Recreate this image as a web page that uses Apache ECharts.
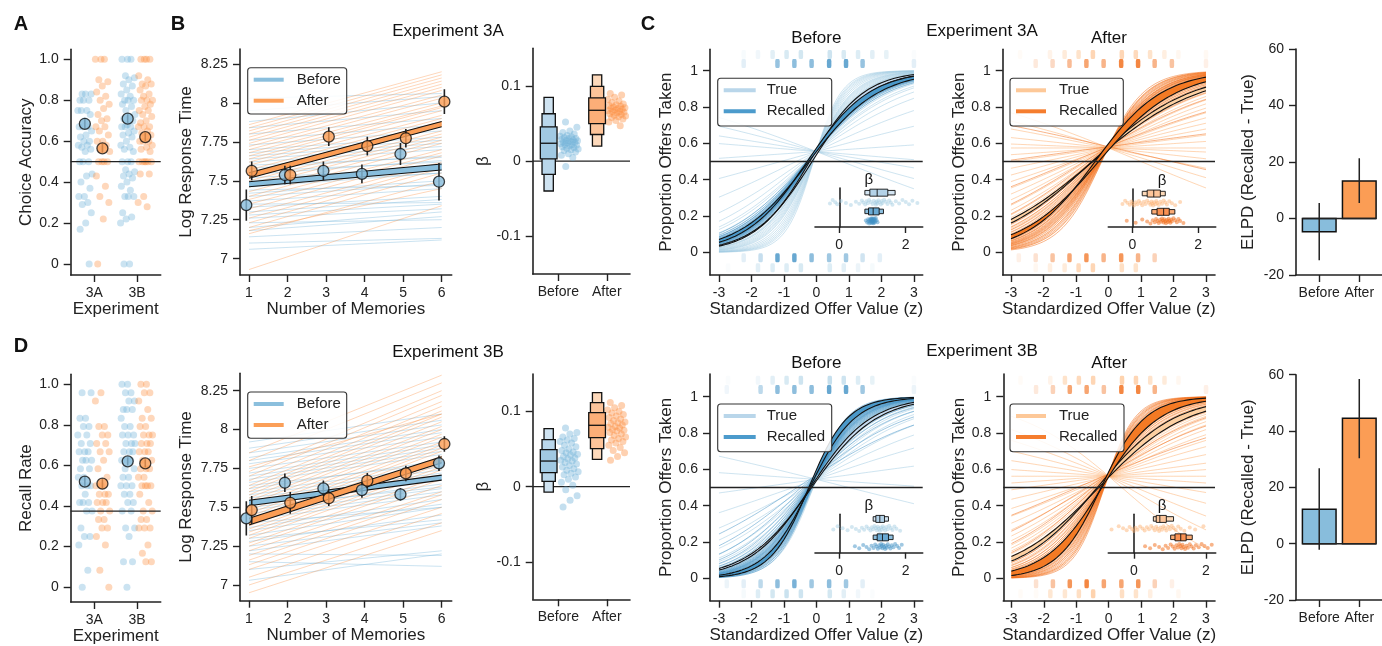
<!DOCTYPE html>
<html>
<head>
<meta charset="utf-8">
<title>Experiment 3A / 3B</title>
<script src="https://cdn.jsdelivr.net/npm/echarts@6.0.0/dist/echarts.min.js"></script>
<style>
  html, body { margin: 0; padding: 0; background: #fff; }
  #chart { width: 1382px; height: 646px; }
</style>
</head>
<body>
<div id="chart"></div>
<script>
// ---------------- data ----------------
const experiments = ['3A', '3B'];
const phases = ['Before', 'After'];

// A: choice accuracy per subject
const acc3A_before = [0.83,0.83,0.83,0.8,0.8,0.8,0.75,0.75,0.75,0.73,0.7,0.67,0.67,0.67,0.65,0.63,0.62,0.6,0.6,0.58,0.58,0.57,0.56,0.55,0.5,0.5,0.5,0.44,0.43,0.4,0.37,0.33,0.33,0.3,0.29,0.25,0.2,0.17,0];
const acc3A_after = [1,1,1,0.9,0.89,0.87,0.84,0.82,0.8,0.78,0.76,0.73,0.71,0.7,0.67,0.67,0.65,0.63,0.6,0.6,0.58,0.56,0.55,0.5,0.5,0.5,0.5,0.43,0.38,0.33,0.3,0.22,0];
const acc3B_before = [1,1,1,0.92,0.91,0.9,0.88,0.87,0.85,0.83,0.82,0.8,0.8,0.8,0.78,0.77,0.75,0.73,0.72,0.71,0.7,0.68,0.67,0.67,0.67,0.65,0.64,0.63,0.62,0.6,0.58,0.57,0.56,0.55,0.5,0.5,0.5,0.46,0.45,0.44,0.43,0.42,0.4,0.38,0.36,0.33,0.33,0.33,0.25,0.23,0.22,0.2,0,0];
const acc3B_after = [1,1,1,1,0.92,0.9,0.88,0.88,0.87,0.85,0.83,0.82,0.8,0.8,0.8,0.78,0.77,0.75,0.75,0.73,0.72,0.7,0.69,0.67,0.67,0.67,0.65,0.64,0.63,0.62,0.6,0.6,0.6,0.58,0.57,0.56,0.55,0.5,0.5,0.5,0.5,0.5,0.5,0.44,0.44,0.33,0.3,0.28];
const accMeans = [0.685, 0.565, 0.71, 0.62];
const accErrs = [0.025, 0.022, 0.022, 0.02];

// D: recall rate per subject
const rec3A_before = [0.958,0.958,0.833,0.833,0.792,0.792,0.75,0.75,0.708,0.708,0.667,0.667,0.667,0.625,0.625,0.625,0.583,0.583,0.542,0.542,0.5,0.5,0.5,0.458,0.417,0.417,0.417,0.375,0.375,0.292,0.25,0.25,0.208,0.083,0];
const rec3A_after = [0.958,0.917,0.792,0.792,0.75,0.75,0.708,0.708,0.667,0.667,0.625,0.583,0.542,0.5,0.5,0.458,0.458,0.458,0.417,0.417,0.417,0.375,0.375,0.333,0.333,0.292,0.292,0.25,0.208,0.083,0];
const rec3B_before = [1,1,0.958,0.958,0.917,0.917,0.875,0.875,0.875,0.833,0.792,0.792,0.75,0.75,0.75,0.708,0.708,0.708,0.667,0.667,0.667,0.625,0.625,0.625,0.583,0.583,0.542,0.542,0.5,0.5,0.5,0.458,0.458,0.417,0.417,0.375,0.375,0.292,0.292,0.25,0.125,0.125,0];
const rec3B_after = [1,1,0.958,0.958,0.917,0.875,0.833,0.833,0.792,0.792,0.75,0.75,0.75,0.708,0.708,0.708,0.667,0.667,0.667,0.625,0.625,0.583,0.583,0.583,0.542,0.542,0.5,0.5,0.5,0.5,0.458,0.417,0.375,0.375,0.333,0.333,0.292,0.292,0.292,0.208,0.167,0.125,0.125];
const recMeans = [0.52, 0.51, 0.62, 0.61];
const recErrs = [0.025, 0.025, 0.02, 0.02];

// B: log response time by number of memories
const memories = [1, 2, 3, 4, 5, 6];
const rt3A_before = [7.344, 7.537, 7.563, 7.544, 7.672, 7.494];
const rt3A_beforeErr = [0.1, 0.06, 0.06, 0.06, 0.07, 0.12];
const rt3A_after = [7.563, 7.537, 7.783, 7.723, 7.773, 8.008];
const rt3A_afterErr = [0.06, 0.06, 0.06, 0.06, 0.06, 0.08];
const rt3B_before = [7.429, 7.658, 7.622, 7.611, 7.583, 7.783];
const rt3B_beforeErr = [0.11, 0.06, 0.05, 0.05, 0.04, 0.05];
const rt3B_after = [7.482, 7.529, 7.558, 7.671, 7.718, 7.907];
const rt3B_afterErr = [0.09, 0.07, 0.05, 0.05, 0.05, 0.05];
// group fit band [low, high] at 1 memory and at 6 memories
const fit3A_before = [[7.462, 7.494], [7.569, 7.608]];
const fit3A_after = [[7.516, 7.552], [7.847, 7.88]];
const fit3B_before = [[7.51, 7.545], [7.675, 7.707]];
const fit3B_after = [[7.386, 7.429], [7.787, 7.825]];
// subject fits: value at 1 memory and at 6 memories
const subj3A_beforeStart = [7.06,7.1,7.14,7.18,7.2,7.23,7.26,7.28,7.3,7.33,7.35,7.37,7.4,7.42,7.44,7.46,7.48,7.5,7.52,7.54,7.56,7.58,7.6,7.62,7.64,7.66,7.68,7.7,7.73,7.76,7.8,7.84,7.88,7.95,8.03];
const subj3A_beforeEnd = [7.12,7.13,7.2,7.27,7.3,7.25,7.32,7.35,7.38,7.4,7.36,7.45,7.48,7.5,7.47,7.55,7.55,7.6,7.58,7.63,7.62,7.66,7.65,7.7,7.72,7.74,7.76,7.78,7.82,7.86,7.9,7.95,8.0,8.04,8.06];
const subj3A_afterStart = [6.93,7.16,7.18,7.2,7.23,7.26,7.29,7.32,7.35,7.38,7.4,7.43,7.46,7.48,7.5,7.52,7.55,7.57,7.6,7.62,7.64,7.66,7.68,7.7,7.72,7.74,7.76,7.78,7.8,7.82,7.84,7.86];
const subj3A_afterEnd = [7.34,7.5,7.45,7.55,7.58,7.6,7.62,7.66,7.68,7.7,7.74,7.76,7.78,7.8,7.82,7.86,7.88,7.9,7.92,7.95,7.97,7.98,8.0,8.03,8.05,8.08,8.1,8.12,8.14,8.16,8.18,8.2];
const subj3B_beforeStart = [7.03,7.1,7.15,7.2,7.22,7.25,7.28,7.3,7.32,7.35,7.37,7.4,7.42,7.44,7.46,7.48,7.5,7.52,7.54,7.56,7.58,7.6,7.62,7.64,7.66,7.68,7.7,7.72,7.75,7.78,7.8,7.82,7.85,7.88,7.92];
const subj3B_beforeEnd = [7.2,7.22,7.12,7.19,7.38,7.4,7.45,7.42,7.5,7.52,7.55,7.5,7.58,7.6,7.62,7.65,7.63,7.68,7.7,7.72,7.74,7.76,7.8,7.78,7.84,7.86,7.88,7.9,7.92,7.95,7.98,8.0,8.03,8.06,8.1];
const subj3B_afterStart = [6.95,7.0,7.05,7.1,7.13,7.16,7.19,7.22,7.25,7.27,7.3,7.32,7.34,7.36,7.38,7.4,7.42,7.44,7.46,7.48,7.5,7.52,7.54,7.56,7.58,7.6,7.62,7.64,7.67,7.7,7.73,7.76,7.8,7.85];
const subj3B_afterEnd = [7.35,7.4,7.46,7.5,7.55,7.58,7.6,7.64,7.68,7.7,7.74,7.76,7.78,7.8,7.83,7.86,7.88,7.9,7.92,7.95,7.97,8.0,8.02,8.05,8.08,8.1,8.12,8.15,8.18,8.22,8.25,8.1,8.3,8.35];

// beta (RT slope): letter-value boxes [q lo3, lo2, lo1, median, hi1, hi2, hi3] and subjects
const betaBox3A_before = [-0.0397, -0.0176, 0.0031, 0.0238, 0.0455, 0.063, 0.0848];
const betaBox3A_after = [0.0199, 0.0354, 0.05, 0.0676, 0.084, 0.0994, 0.1148];
const betaBox3B_before = [-0.0072, 0.0071, 0.0187, 0.0341, 0.0493, 0.0627, 0.0773];
const betaBox3B_after = [0.0364, 0.0507, 0.0653, 0.0817, 0.0987, 0.112, 0.1253];
const beta3A_before = [0.052,0.045,0.04,0.038,0.036,0.034,0.033,0.032,0.031,0.03,0.03,0.029,0.028,0.027,0.027,0.026,0.025,0.025,0.024,0.023,0.022,0.022,0.021,0.02,0.019,0.018,0.017,0.016,0.015,0.014,0.012,0.01,0.008,0.005,-0.007];
const beta3A_after = [0.09,0.088,0.085,0.082,0.08,0.078,0.076,0.075,0.074,0.073,0.072,0.071,0.07,0.07,0.069,0.068,0.067,0.066,0.066,0.065,0.064,0.063,0.062,0.061,0.06,0.059,0.058,0.056,0.054,0.052,0.047];
const beta3B_before = [0.078,0.072,0.07,0.066,0.064,0.062,0.06,0.058,0.055,0.053,0.05,0.048,0.046,0.045,0.043,0.042,0.04,0.038,0.037,0.035,0.034,0.032,0.03,0.028,0.026,0.024,0.022,0.02,0.018,0.016,0.013,0.01,0.006,0.002,-0.004,-0.012,-0.018,-0.027];
const beta3B_after = [0.112,0.108,0.105,0.102,0.1,0.098,0.096,0.094,0.092,0.09,0.088,0.086,0.085,0.084,0.082,0.08,0.079,0.078,0.076,0.075,0.074,0.072,0.07,0.068,0.066,0.064,0.062,0.06,0.058,0.055,0.052,0.048,0.045,0.04,0.035];

// C: logistic choice curves (subject slopes, shared intercepts, group bands [intercept, slope])
const c3A_before_trueBeta = [-0.28,-0.2,-0.12,-0.06,0.05,0.2,0.35,0.5,0.6,0.68,0.72,0.78,0.82,0.86,0.9,0.95,1.0,1.04,1.08,1.1,1.12,1.15,1.18,1.2,1.25,1.28,1.3,1.35,1.4,1.45,1.5,1.55,1.6,1.7,1.8,1.9,2.0,2.1,2.2,2.35];
const c3A_before_recBeta = [0.8,0.84,0.87,0.88,0.9,0.92,0.93,0.94,0.95,0.96,0.97,0.98,0.98,0.99,1.0,1.0,1.01,1.02,1.02,1.03,1.04,1.05,1.06,1.07,1.08,1.1,1.12,1.15];
const c3A_before_trueInt = 0.22, c3A_before_recInt = 0.25;
const c3A_before_trueBand = [[0.15, 1.12], [0.25, 1.2]];
const c3A_before_recBand = [[0.22, 0.93], [0.3, 1.05]];
const c3A_before_trueBox = [0.77, 0.92, 1.14, 1.46, 1.68];
const c3A_before_recBox = [0.77, 0.88, 1.02, 1.2, 1.33];

const c3A_after_trueBeta = [-0.3,-0.22,-0.15,-0.08,-0.03,0.0,0.05,0.1,0.15,0.2,0.25,0.3,0.35,0.4,0.45,0.5,0.55,0.58,0.6,0.63,0.66,0.7,0.73,0.76,0.8,0.85,0.9,0.95,1.0,1.05,1.12,1.2,1.3,1.45];
const c3A_after_recBeta = [-0.17,0.1,0.3,0.45,0.55,0.62,0.68,0.72,0.76,0.8,0.84,0.87,0.9,0.93,0.95,0.97,1.0,1.02,1.05,1.08,1.1,1.12,1.15,1.18,1.2,1.25,1.3,1.35,1.4,1.45,1.55];
const c3A_after_trueInt = 0.3, c3A_after_recInt = 0.33;
const c3A_after_trueBand = [[0.29, 0.6], [0.33, 0.66]];
const c3A_after_recBand = [[0.25, 0.83], [0.4, 0.97]];
const c3A_after_trueBox = [0.3, 0.45, 0.65, 0.85, 1.0];
const c3A_after_recBox = [0.59, 0.75, 0.95, 1.12, 1.29];

const c3B_before_trueBeta = [-0.18,-0.05,0.1,0.25,0.38,0.5,0.6,0.68,0.75,0.82,0.88,0.94,0.98,1.02,1.06,1.1,1.13,1.16,1.19,1.22,1.25,1.28,1.31,1.34,1.38,1.42,1.46,1.5,1.55,1.6,1.66,1.72,1.83];
const c3B_before_recBeta = [0.47,0.6,0.72,0.82,0.9,0.97,1.03,1.08,1.12,1.16,1.2,1.23,1.26,1.28,1.3,1.32,1.35,1.38,1.4,1.43,1.46,1.5,1.54,1.58,1.63,1.68,1.74,1.8,1.88];
const c3B_before_trueInt = 0.18, c3B_before_recInt = 0.28;
const c3B_before_trueBand = [[0.15, 1.0], [0.2, 1.08]];
const c3B_before_recBand = [[0.3, 1.45], [0.4, 1.7]];
const c3B_before_trueBox = [1.02, 1.1, 1.22, 1.36, 1.48];
const c3B_before_recBox = [1.02, 1.14, 1.3, 1.48, 1.62];

const c3B_after_trueBeta = [-0.62,-0.42,-0.3,-0.2,-0.12,-0.05,0.0,0.05,0.1,0.17,0.24,0.3,0.36,0.42,0.48,0.53,0.58,0.62,0.66,0.7,0.74,0.78,0.82,0.86,0.9,0.95,1.0,1.05,1.1,1.16,1.23,1.3,1.4,1.55,1.7,1.93];
const c3B_after_recBeta = [0.31,0.45,0.58,0.7,0.8,0.88,0.95,1.02,1.08,1.13,1.18,1.22,1.26,1.29,1.32,1.35,1.38,1.42,1.46,1.5,1.55,1.6,1.66,1.72,1.8,1.88,1.96,2.05,2.16];
const c3B_after_trueInt = 0.25, c3B_after_recInt = 0.3;
const c3B_after_trueBand = [[0.23, 0.74], [0.3, 0.85]];
const c3B_after_recBand = [[0.24, 1.14], [0.35, 1.5]];
const c3B_after_trueBox = [0.54, 0.62, 0.72, 0.9, 1.1];
const c3B_after_recBox = [1.02, 1.14, 1.3, 1.45, 1.62];

// raw choices: offer value levels and share of choices (taken / passed)
const zTrueLevels = [-2.72,-2.24,-1.8,-1.35,-0.92,-0.48,-0.04,0.41,0.84,1.28,1.72,2.15,2.6,3.0];
const zRecLevels = [-2.76,-2.24,-1.72,-1.2,-0.68,-0.15,0.39,0.91,1.42,1.95,2.47,3.0];
const c3A_before_takenTrue = [0,0.08,0.15,0.3,0.4,0.45,0,0.5,0.4,0.35,0.3,0.25,0,0.05];
const c3A_before_takenRec = [0,0.15,0,0.55,0.6,0.6,0.8,0.8,0.55,0,0,0.15];
const c3A_before_passRec = [0,0.15,0.3,0.8,0.8,0.6,0.5,0.5,0.25,0.15,0,0];
const c3A_before_passTrue = [0.05,0,0.3,0.35,0.35,0.4,0,0.35,0.3,0.2,0.1,0,0,0];
const c3A_after_takenTrue = [0.05,0,0.15,0.25,0.35,0.5,0,0.5,0.45,0.35,0.2,0.1,0,0.08];
const c3A_after_takenRec = [0,0.15,0.25,0.45,0.6,0.5,0.8,0.8,0.5,0.4,0,0.1];
const c3A_after_passRec = [0.1,0.2,0.4,0.6,0.7,0.5,0.7,0.5,0.3,0,0,0];
const c3A_after_passTrue = [0,0.1,0.2,0.25,0.45,0.5,0,0.4,0.35,0,0,0,0,0];
const c3B_before_takenTrue = [0.05,0,0.15,0.3,0.4,0.5,0,0.6,0.5,0.35,0.25,0,0,0.05];
const c3B_before_takenRec = [0.08,0,0.35,0.6,0.6,0.6,0.8,0.8,0.5,0,0,0.1];
const c3B_before_passRec = [0.1,0.15,0.35,0.6,0.7,0.5,0.6,0.5,0.15,0,0,0];
const c3B_before_passTrue = [0,0.1,0.35,0.45,0.55,0.5,0,0.45,0.3,0.15,0.05,0,0,0];
const c3B_after_takenTrue = [0.05,0,0.15,0.35,0.45,0.5,0,0.55,0.5,0.35,0.25,0.1,0,0];
const c3B_after_takenRec = [0,0.15,0.3,0.6,0.6,0.4,0.8,0.8,0.5,0,0,0.1];
const c3B_after_passRec = [0,0.2,0.4,0.7,0.8,0.6,0.6,0.7,0.3,0.1,0,0];
const c3B_after_passTrue = [0.05,0.05,0.3,0.3,0.4,0.55,0,0.4,0.35,0.2,0,0.1,0,0];

// ELPD (Recalled - True)
const elpd3A = [-4.7, 13.3];
const elpd3A_lo = [-14.8, 5.5];
const elpd3A_hi = [5.5, 21.3];
const elpd3B = [12.2, 44.5];
const elpd3B_lo = [-2.2, 30.3];
const elpd3B_hi = [26.8, 58.5];

// ---------------- drawing ----------------
const FONT = '"Liberation Sans", Arial, sans-serif';
const INK = '#222222';
const BLUE = '#6baed6', ORANGE = '#fd8d3c';
const BLUE_FILL = '#88bddc', ORANGE_FILL = '#fb9d55';
const PAL = {
  before: {trueLine: '#9ecae1', recLine: '#4292c6', trueBand: '#c6dbef', recBand: '#4a98c9',
    legTrue: '#b9d6ea', legRec: '#4c9bcc', boxTrue: ['#d4e5f2', '#b3d2e8'], boxRec: ['#8cbfdf', '#6aaad4']},
  after: {trueLine: '#fdae6b', recLine: '#f16913', trueBand: '#fdd0a2', recBand: '#f47a24',
    legTrue: '#fdc898', legRec: '#f57d2e', boxTrue: ['#fdd9b8', '#fdc59a'], boxRec: ['#fbab74', '#f99152']}
};

const jit = i => ((i * 0.6180339887 + 0.31) % 1) - 0.5;
const sig = t => 1 / (1 + Math.exp(-t));
const zs = [];
for (let k = -30; k <= 30; k++) zs.push(k / 10);
const curve = (a, b) => zs.map(z => [z, sig(a + b * z)]);

const grids = [], xAxes = [], yAxes = [], series = [], graphics = [];

function grid(l, t, w, h) {
  grids.push({left: l, top: t, width: w, height: h});
  return grids.length - 1;
}
function axis(gi, min, max, ticks, fmt, name, gap, margin) {
  const a = {
    type: 'value', gridIndex: gi, min: min, max: max,
    splitLine: {show: false},
    axisLine: {show: true, onZero: false, lineStyle: {color: INK, width: 1.6}},
    axisTick: {show: ticks.length > 0, length: 7, customValues: ticks, lineStyle: {color: INK, width: 1.4}},
    axisLabel: {show: ticks.length > 0, customValues: ticks, margin: margin || 12, color: INK, fontSize: 14, fontFamily: FONT},
    name: name || '', nameLocation: 'middle', nameGap: gap || 0,
    nameTextStyle: {fontSize: 17, color: INK, fontFamily: FONT}
  };
  if (fmt) a.axisLabel.formatter = fmt;
  return a;
}
function lines(gi, segs, color, width, opacity, z) {
  return {type: 'lines', coordinateSystem: 'cartesian2d', xAxisIndex: gi, yAxisIndex: gi,
    polyline: true, silent: true, z: z, data: segs.map(c => ({coords: c})),
    lineStyle: {color: color, width: width, opacity: opacity}};
}
function scatter(gi, data, extra) {
  return Object.assign({type: 'scatter', xAxisIndex: gi, yAxisIndex: gi, silent: true, data: data}, extra);
}
function custom(gi, z, draw) {
  return {type: 'custom', xAxisIndex: gi, yAxisIndex: gi, silent: true, z: z, data: [[0, 0]],
    renderItem: (params, api) => ({type: 'group', children: draw(api)})};
}
function band(gi, lo, hi, fill, z) {
  return custom(gi, z, api => {
    const L = lo.map(p => api.coord(p)), H = hi.map(p => api.coord(p));
    return [
      {type: 'polygon', shape: {points: L.concat(H.slice().reverse())}, style: {fill: fill}},
      {type: 'polyline', shape: {points: L}, style: {stroke: '#111', lineWidth: 1.1, fill: null}},
      {type: 'polyline', shape: {points: H}, style: {stroke: '#111', lineWidth: 1.1, fill: null}}
    ];
  });
}
function text(x, y, str, font, align) {
  graphics.push({type: 'text', x: x, y: y, z: 100,
    style: {text: str, font: font, fill: '#111', textAlign: align || 'center', textVerticalAlign: 'middle'}});
}
function legend(x, y, w, h, items, swW) {
  graphics.push({type: 'rect', z: 100, shape: {x: x, y: y, width: w, height: h, r: 3},
    style: {fill: 'rgba(255,255,255,0.85)', stroke: '#333', lineWidth: 1.1}});
  items.forEach((it, k) => {
    const yy = y + 12 + k * 21;
    graphics.push({type: 'line', z: 101, shape: {x1: x + 6, y1: yy, x2: x + 6 + swW, y2: yy},
      style: {stroke: it[1], lineWidth: 4}});
    graphics.push({type: 'text', z: 101, x: x + 49, y: yy,
      style: {text: it[0], font: '15px ' + FONT, fill: INK, textAlign: 'left', textVerticalAlign: 'middle'}});
  });
}

// A / D strip panels
function stripPanel(box, yr, groups, means, errs, ref, yname) {
  const gi = grid(...box);
  xAxes.push(axis(gi, -0.55, 1.55, [0, 1], v => experiments[Math.round(v)], 'Experiment', 26, 11));
  yAxes.push(axis(gi, yr[0], yr[1], [0, 0.2, 0.4, 0.6, 0.8, 1], v => v === 0 ? '0' : v.toFixed(1), yname, 36, 12));
  const offs = [-0.22, 0.19];
  const xs = [0, 1, 2, 3].map(k => Math.floor(k / 2) + offs[k % 2]);
  groups.forEach((vals, k) => {
    series.push(scatter(gi, vals.map((v, i) => [xs[k] + jit(i + 5 * k) * 0.34, v]),
      {symbolSize: 7, itemStyle: {color: k % 2 ? ORANGE : BLUE, opacity: 0.35}, z: 2}));
  });
  series.push(lines(gi, [[[-0.55, ref], [1.55, ref]]], INK, 1.4, 1, 3));
  series.push(lines(gi, means.map((m, k) => [[xs[k], m - errs[k]], [xs[k], m + errs[k]]]), INK, 1.6, 1, 4));
  series.push(scatter(gi, means.map((m, k) => ({value: [xs[k], m], itemStyle: {color: k % 2 ? ORANGE_FILL : BLUE_FILL}})),
    {symbolSize: 11, itemStyle: {borderColor: '#111', borderWidth: 1.3}, z: 5}));
}

// B response-time panels
function rtPanel(box, yr, sb, eb, sa, ea, mb, errb, ma, erra, fb, fa) {
  const gi = grid(...box);
  xAxes.push(axis(gi, 0.766, 6.26, memories, null, 'Number of Memories', 26, 11));
  yAxes.push(axis(gi, yr[0], yr[1], [7, 7.25, 7.5, 7.75, 8, 8.25], null, 'Log Response Time', 45, 12));
  series.push(lines(gi, sb.map((s, i) => [[1, s], [6, eb[i]]]), BLUE, 1, 0.35, 1));
  series.push(lines(gi, sa.map((s, i) => [[1, s], [6, ea[i]]]), ORANGE, 1, 0.35, 1));
  series.push(band(gi, [[1, fb[0][0]], [6, fb[1][0]]], [[1, fb[0][1]], [6, fb[1][1]]], BLUE_FILL, 3));
  series.push(band(gi, [[1, fa[0][0]], [6, fa[1][0]]], [[1, fa[0][1]], [6, fa[1][1]]], ORANGE_FILL, 3));
  [[mb, errb, -0.07, BLUE_FILL], [ma, erra, 0.07, ORANGE_FILL]].forEach(([m, e, off, col]) => {
    series.push(lines(gi, m.map((v, i) => [[memories[i] + off, v - e[i]], [memories[i] + off, v + e[i]]]), INK, 1.6, 1, 4));
    series.push(scatter(gi, m.map((v, i) => [memories[i] + off, v]),
      {symbolSize: 11, itemStyle: {color: col, borderColor: '#111', borderWidth: 1.3}, z: 5}));
  });
  legend(box[0] + 7.7, box[1] + 18.7, 99, 46.3, [['Before', '#8bbfdd'], ['After', '#fb9f58']], 30);
}

// beta panels
function betaPanel(box, qb, qa, bb, ba) {
  const gi = grid(...box);
  xAxes.push(axis(gi, -0.53, 1.48, [0, 1], v => phases[Math.round(v)], '', 0, 11));
  yAxes.push(axis(gi, -0.15, 0.15, [-0.1, 0, 0.1], v => v === 0 ? '0' : String(v), 'β', 41, 12));
  series.push(lines(gi, [[[-0.53, 0], [1.48, 0]]], INK, 1.4, 1, 1));
  const fills = [['#cfe3f1', '#b9d7eb', '#a1c9e2'], ['#fdd9bb', '#fdc49a', '#fcae78']];
  const widths = [9.3, 13.3, 16.7];
  series.push(custom(gi, 3, api => {
    const ch = [];
    [qb, qa].forEach((q, g) => {
      const xc = api.coord([g - 0.2, 0])[0];
      for (let k = 0; k < 3; k++) {
        const top = api.coord([g, q[6 - k]])[1], bot = api.coord([g, q[k]])[1];
        ch.push({type: 'rect', shape: {x: xc - widths[k] / 2, y: top, width: widths[k], height: bot - top},
          style: {fill: fills[g][k], stroke: '#111', lineWidth: 1.3}});
      }
      const ym = api.coord([g, q[3]])[1];
      ch.push({type: 'line', shape: {x1: xc - widths[2] / 2, y1: ym, x2: xc + widths[2] / 2, y2: ym},
        style: {stroke: '#111', lineWidth: 1.3}});
    });
    return ch;
  }));
  series.push(scatter(gi, bb.map((v, i) => [0.22 + jit(i) * 0.38, v]), {symbolSize: 7, itemStyle: {color: BLUE, opacity: 0.4}, z: 2}));
  series.push(scatter(gi, ba.map((v, i) => [1.2 + jit(i + 3) * 0.38, v]), {symbolSize: 7, itemStyle: {color: ORANGE, opacity: 0.4}, z: 2}));
}

// C logistic panels with inset
function hBox(api, y, q, fills) {
  const yc = api.coord([0, y])[1];
  const r = (lo, hi, h, fill) => {
    const a = api.coord([lo, y])[0], b = api.coord([hi, y])[0];
    return {type: 'rect', shape: {x: a, y: yc - h / 2, width: b - a, height: h}, style: {fill: fill, stroke: '#111', lineWidth: 0.9}};
  };
  const m = api.coord([q[2], y])[0];
  return [r(q[0], q[4], 4.5, fills[0]), r(q[1], q[3], 7, fills[1]),
    {type: 'line', shape: {x1: m, y1: yc - 3.5, x2: m, y2: yc + 3.5}, style: {stroke: '#111', lineWidth: 0.9}}];
}
function logitPanel(p) {
  const pal = PAL[p.phase];
  const gi = grid(...p.box);
  xAxes.push(axis(gi, p.xr[0], p.xr[1], [-3, -2, -1, 0, 1, 2, 3], null, 'Standardized Offer Value (z)', 26, 11));
  yAxes.push(axis(gi, p.yr[0], p.yr[1], [0, 0.2, 0.4, 0.6, 0.8, 1], null, 'Proportion Offers Taken', 35, 12));
  [[p.takenTrue, zTrueLevels, 1.09, pal.trueLine], [p.takenRec, zRecLevels, 1.04, pal.recLine],
   [p.passRec, zRecLevels, -0.03, pal.recLine], [p.passTrue, zTrueLevels, -0.085, pal.trueLine]].forEach(([w, lv, y, col]) => {
    const data = [];
    w.forEach((a, i) => { if (a > 0) data.push({value: [lv[i], y], itemStyle: {opacity: a}}); });
    series.push(scatter(gi, data, {symbol: 'roundRect', symbolSize: [4.5, 9], itemStyle: {color: col}, z: 1}));
  });
  series.push(lines(gi, p.trueBeta.map(b => curve(p.trueInt, b)), pal.trueLine, 1, 0.5, 2));
  series.push(lines(gi, p.recBeta.map(b => curve(p.recInt, b)), pal.recLine, 1, 0.5, 2));
  series.push(band(gi, curve(...p.trueBand[0]), curve(...p.trueBand[1]), pal.trueBand, 3));
  series.push(band(gi, curve(...p.recBand[0]), curve(...p.recBand[1]), pal.recBand, 3));
  series.push(lines(gi, [[[p.xr[0], 0.5], [p.xr[1], 0.5]]], INK, 1.4, 1, 5));
  text(p.box[0] + p.box[2] / 2, p.box[1] - 11, p.phase === 'before' ? 'Before' : 'After', '17px ' + FONT);
  legend(p.box[0] + p.leg[0], p.box[1] + p.leg[1], p.leg[2], 47.7, [['True', pal.legTrue], ['Recalled', pal.legRec]], p.leg[3]);

  const ii = grid(...p.ibox);
  const xa = axis(ii, p.ixr[0], p.ixr[1], [0, 2], null, '', 0, 11);
  xa.axisTick.length = 6;
  xAxes.push(xa);
  const ya = axis(ii, 0, 1, [], null);
  ya.axisLine.onZero = true;
  yAxes.push(ya);
  series.push(scatter(ii, p.trueBeta.map((b, i) => [b, 0.63 + jit(i) * 0.14]), {symbolSize: 4, itemStyle: {color: pal.trueLine, opacity: 0.45}, z: 2}));
  series.push(scatter(ii, p.recBeta.map((b, i) => [b, 0.16 + jit(i + 2) * 0.14]), {symbolSize: 4, itemStyle: {color: pal.recLine, opacity: 0.5}, z: 2}));
  series.push(custom(ii, 4, api => hBox(api, 0.88, p.trueBox, pal.boxTrue).concat(hBox(api, 0.4, p.recBox, pal.boxRec))));
  text(p.ibox[0] + p.ibox[2] / 2, p.ibox[1] - 8, 'β', '15px ' + FONT);
}

// ELPD panels
function elpdPanel(box, vals, lo, hi) {
  const gi = grid(...box);
  xAxes.push(axis(gi, -0.58, 1.56, [0, 1], v => phases[Math.round(v)], '', 0, 11));
  yAxes.push(axis(gi, -20, 60, [-20, 0, 20, 40, 60], null, 'ELPD (Recalled - True)', 39, 12));
  series.push(custom(gi, 2, api => vals.map((v, i) => {
    const a = api.coord([i - 0.42, Math.max(v, 0)]), b = api.coord([i + 0.42, Math.min(v, 0)]);
    return {type: 'rect', shape: {x: a[0], y: a[1], width: b[0] - a[0], height: b[1] - a[1]},
      style: {fill: i ? ORANGE_FILL : BLUE_FILL, stroke: '#111', lineWidth: 1.5}};
  })));
  series.push(lines(gi, [[[-0.42, 0], [1.42, 0]]], INK, 1.5, 1, 3));
  series.push(lines(gi, vals.map((v, i) => [[i, lo[i]], [i, hi[i]]]), INK, 1.5, 1, 4));
}

// ---- row 1: Experiment 3A ----
stripPanel([70.7, 49.3, 90, 225.7], [-0.054, 1.049], [acc3A_before, acc3A_after, acc3B_before, acc3B_after], accMeans, accErrs, 0.5, 'Choice Accuracy');
rtPanel([240, 49, 211.7, 226], [6.895, 8.346], subj3A_beforeStart, subj3A_beforeEnd, subj3A_afterStart, subj3A_afterEnd,
  rt3A_before, rt3A_beforeErr, rt3A_after, rt3A_afterErr, fit3A_before, fit3A_after);
betaPanel([532.7, 48.3, 97.3, 225.7], betaBox3A_before, betaBox3A_after, beta3A_before, beta3A_after);
logitPanel({phase: 'before', box: [710, 49.3, 212.7, 225.7], xr: [-3.277, 3.27], yr: [-0.125, 1.118],
  trueBeta: c3A_before_trueBeta, recBeta: c3A_before_recBeta, trueInt: c3A_before_trueInt, recInt: c3A_before_recInt,
  trueBand: c3A_before_trueBand, recBand: c3A_before_recBand, trueBox: c3A_before_trueBox, recBox: c3A_before_recBox,
  takenTrue: c3A_before_takenTrue, takenRec: c3A_before_takenRec, passRec: c3A_before_passRec, passTrue: c3A_before_passTrue,
  leg: [7.7, 29, 114, 32], ibox: [815, 188, 107.7, 39], ixr: [-0.73, 2.51]});
logitPanel({phase: 'after', box: [1002.7, 49.3, 212.3, 225.7], xr: [-3.255, 3.277], yr: [-0.125, 1.118],
  trueBeta: c3A_after_trueBeta, recBeta: c3A_after_recBeta, trueInt: c3A_after_trueInt, recInt: c3A_after_recInt,
  trueBand: c3A_after_trueBand, recBand: c3A_after_recBand, trueBox: c3A_after_trueBox, recBox: c3A_after_recBox,
  takenTrue: c3A_after_takenTrue, takenRec: c3A_after_takenRec, passRec: c3A_after_passRec, passTrue: c3A_after_passTrue,
  leg: [7.3, 29, 113.3, 30], ibox: [1108.3, 189, 107.4, 38], ixr: [-0.73, 2.53]});
elpdPanel([1296, 49, 85.7, 226], elpd3A, elpd3A_lo, elpd3A_hi);

// ---- row 2: Experiment 3B ----
stripPanel([70.7, 374.3, 90, 230.7], [-0.073, 1.049], [rec3A_before, rec3A_after, rec3B_before, rec3B_after], recMeans, recErrs, 0.375, 'Recall Rate');
rtPanel([240, 373.3, 211.7, 227.4], [6.899, 8.362], subj3B_beforeStart, subj3B_beforeEnd, subj3B_afterStart, subj3B_afterEnd,
  rt3B_before, rt3B_beforeErr, rt3B_after, rt3B_afterErr, fit3B_before, fit3B_after);
betaPanel([532.7, 374, 97.3, 225.3], betaBox3B_before, betaBox3B_after, beta3B_before, beta3B_after);
logitPanel({phase: 'before', box: [710, 374, 212.7, 226.7], xr: [-3.277, 3.27], yr: [-0.123, 1.125],
  trueBeta: c3B_before_trueBeta, recBeta: c3B_before_recBeta, trueInt: c3B_before_trueInt, recInt: c3B_before_recInt,
  trueBand: c3B_before_trueBand, recBand: c3B_before_recBand, trueBox: c3B_before_trueBox, recBox: c3B_before_recBox,
  takenTrue: c3B_before_takenTrue, takenRec: c3B_before_takenRec, passRec: c3B_before_passRec, passTrue: c3B_before_passTrue,
  leg: [7.7, 30, 114, 32], ibox: [815, 514.3, 107.7, 38.4], ixr: [-0.73, 2.51]});
logitPanel({phase: 'after', box: [1003.3, 374, 211.7, 226.7], xr: [-3.25, 3.277], yr: [-0.123, 1.125],
  trueBeta: c3B_after_trueBeta, recBeta: c3B_after_recBeta, trueInt: c3B_after_trueInt, recInt: c3B_after_recInt,
  trueBand: c3B_after_trueBand, recBand: c3B_after_recBand, trueBox: c3B_after_trueBox, recBox: c3B_after_recBox,
  takenTrue: c3B_after_takenTrue, takenRec: c3B_after_takenRec, passRec: c3B_after_passRec, passTrue: c3B_after_passTrue,
  leg: [6.7, 30, 114, 30], ibox: [1108.3, 514.3, 107.4, 38.4], ixr: [-0.71, 2.27]});
elpdPanel([1296, 374.7, 85.7, 225.3], elpd3B, elpd3B_lo, elpd3B_hi);

// titles and panel letters
text(448, 31, 'Experiment 3A', '17px ' + FONT);
text(982, 31, 'Experiment 3A', '17px ' + FONT);
text(448, 352, 'Experiment 3B', '17px ' + FONT);
text(982, 351, 'Experiment 3B', '17px ' + FONT);
text(21, 24, 'A', 'bold 20px ' + FONT);
text(178, 24, 'B', 'bold 20px ' + FONT);
text(648, 24, 'C', 'bold 20px ' + FONT);
text(21, 346, 'D', 'bold 20px ' + FONT);

const chart = echarts.init(document.getElementById('chart'));
chart.setOption({
  animation: false,
  backgroundColor: '#ffffff',
  textStyle: {fontFamily: FONT},
  grid: grids,
  xAxis: xAxes,
  yAxis: yAxes,
  series: series,
  graphic: {elements: graphics}
});
</script>
</body>
</html>
